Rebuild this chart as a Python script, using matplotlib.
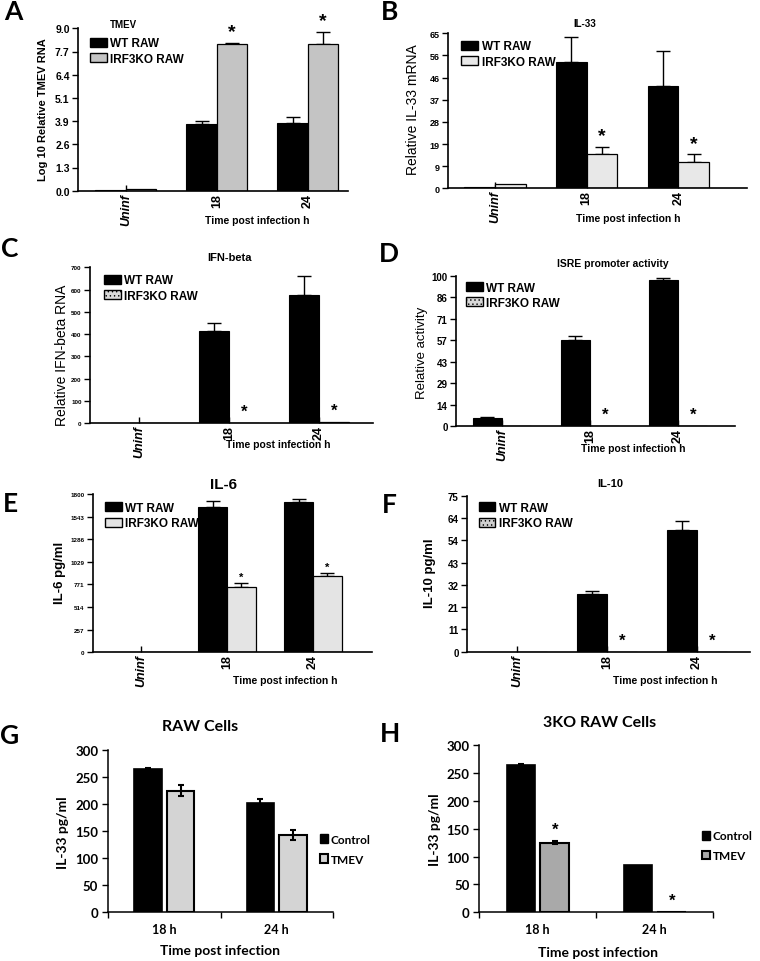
import matplotlib
matplotlib.use("Agg")
import matplotlib.pyplot as plt
import numpy as np
from matplotlib.patches import Patch

plt.rcParams["font.family"] = ["Liberation Sans", "DejaVu Sans"]
plt.rcParams["font.weight"] = "bold"
plt.rcParams["axes.labelweight"] = "bold"
plt.rcParams["hatch.linewidth"] = 0.5

W, H = 760, 962

# ---- data ----
groups = ["Uninf", "18", "24"]

tmev_wt = [0.05, 3.70, 3.75]
tmev_wt_err = [0.0, 0.15, 0.32]
tmev_ko = [0.08, 8.15, 8.15]
tmev_ko_err = [0.0, 0.05, 0.63]

il33_wt = [0.6, 53.1, 43.0]
il33_wt_err = [0.0, 10.2, 14.4]
il33_ko = [2.0, 14.2, 11.2]
il33_ko_err = [0.0, 3.2, 3.0]

ifnb_wt = [1.0, 415, 575]
ifnb_wt_err = [0.0, 35, 87]
ifnb_ko = [0.0, 1.0, 4.0]
ifnb_ko_err = [0.0, 0.0, 0.0]

isre_wt = [5.7, 57.5, 97.1]
isre_wt_err = [0.3, 2.5, 1.4]
isre_ko = [0.0, 0.2, 0.4]
isre_ko_err = [0.0, 0.0, 0.0]

il6_wt = [6, 1648, 1705]
il6_wt_err = [0, 76, 38]
il6_ko = [0, 739, 871]
il6_ko_err = [0, 45, 30]

il10_wt = [0.0, 27.7, 58.7]
il10_wt_err = [0.0, 1.6, 4.3]
il10_ko = [0.0, 0.0, 0.0]
il10_ko_err = [0.0, 0.0, 0.0]

times = ["18 h", "24 h"]
raw_ctrl = [265, 200.6]
raw_ctrl_err = [1, 9]
raw_tmev = [224, 142.6]
raw_tmev_err = [10, 9]

ko_ctrl = [264, 85]
ko_ctrl_err = [2, 0]
ko_tmev = [125, 0]
ko_tmev_err = [3, 0]

fig = plt.figure(figsize=(W / 100, H / 100), dpi=100)


def px_axes(left, top, right, bottom):
    return fig.add_axes([left / W, 1 - bottom / H, (right - left) / W, (bottom - top) / H])


def ftext(x, y, s, **kw):
    ha = kw.pop("ha", "center")
    va = kw.pop("va", "center")
    fig.text(x / W, 1 - y / H, s, ha=ha, va=va, **kw)


def sigma_panel(box, xlim, ymax, dec, wt, wt_err, ko, ko_err, ko_color, ytick_fs,
                leg_pos, ko_hatch=None, star_fs=13, star_off=2):
    ax = px_axes(*box)
    x = np.arange(len(groups))
    w = 0.335
    ax.bar(x - w / 2, wt, w, color="black", edgecolor="black", lw=0.8, zorder=2)
    ax.bar(x + w / 2, ko, w, color=ko_color, edgecolor="black", lw=0.9, hatch=ko_hatch, zorder=2)
    for xs, v, e in [(x - w / 2, wt, wt_err), (x + w / 2, ko, ko_err)]:
        v = np.array(v, float)
        e = np.array(e, float)
        m = e > 0
        if m.any():
            ax.errorbar(xs[m], v[m], yerr=[np.zeros(m.sum()), e[m]], fmt="none",
                        ecolor="black", elinewidth=1, capsize=5, capthick=1, zorder=1)
    for i in (1, 2):
        ax.annotate("*", (x[i] + w / 2, ko[i] + ko_err[i]), xytext=(0, star_off),
                    textcoords="offset points", ha="center", va="bottom", fontsize=star_fs)
    ax.set_xlim(xlim)
    ax.set_ylim(0, ymax)
    yt = np.linspace(0, ymax, 8)
    ax.set_yticks(yt)
    ax.set_yticklabels([f"{v:.{dec}f}" for v in yt], fontsize=ytick_fs)
    ax.set_xticks(x)
    ax.set_xticklabels(groups, rotation=90, fontsize=9)
    ax.get_xticklabels()[0].set_fontstyle("italic")
    ax.tick_params(axis="y", direction="out", length=4, width=1, pad=2)
    ax.tick_params(axis="x", direction="in", length=4, width=1, pad=1.5)
    for s in ["top", "right"]:
        ax.spines[s].set_visible(False)
    for s in ["left", "bottom"]:
        ax.spines[s].set_linewidth(1.2)
    handles = [Patch(facecolor="black", edgecolor="black"),
               Patch(facecolor=ko_color, edgecolor="black", hatch=ko_hatch)]
    ax.legend(handles, ["WT RAW", "IRF3KO RAW"], loc="upper left", bbox_to_anchor=leg_pos,
              frameon=False, fontsize=8.5, handlelength=1.4, handleheight=0.8,
              handletextpad=0.3, labelspacing=0.28, borderpad=0, borderaxespad=0)
    return ax


def excel_panel(box, ctrl, ctrl_err, tmev, tmev_err, tmev_color, leg_pos, stars=False):
    ax = px_axes(*box)
    x = np.arange(len(times))
    w, off = 0.245, 0.145
    ax.bar(x - off, ctrl, w, color="black", edgecolor="black", lw=1.2, zorder=2)
    ax.bar(x + off, tmev, w, color=tmev_color, edgecolor="black", lw=1.5, zorder=2)
    for xs, v, e in [(x - off, ctrl, ctrl_err), (x + off, tmev, tmev_err)]:
        v = np.array(v, float)
        e = np.array(e, float)
        m = e > 0
        ax.errorbar(xs[m], v[m], yerr=e[m], fmt="none", ecolor="black",
                    elinewidth=1.5, capsize=2.5, capthick=1.5, zorder=3)
    if stars:
        for i in range(len(times)):
            ax.annotate("*", (x[i] + off, tmev[i] + tmev_err[i]), xytext=(0, 3),
                        textcoords="offset points", ha="center", va="bottom", fontsize=12)
    ax.set_xlim(-0.5, 1.5)
    ax.set_ylim(0, 300)
    ax.set_yticks(np.arange(0, 301, 50))
    ax.set_xticks(x)
    ax.set_xticklabels(times)
    ax.set_xticks([-0.5, 0.5, 1.5], minor=True)
    ax.tick_params(axis="x", which="major", length=0, pad=8, labelsize=9, labelfontfamily="Lato")
    ax.tick_params(axis="x", which="minor", length=4, width=1, direction="out")
    ax.tick_params(axis="y", length=4, width=1, direction="out", pad=3, labelsize=9.5,
                   labelfontfamily="Lato")
    for s in ["top", "right"]:
        ax.spines[s].set_visible(False)
    for s in ["left", "bottom"]:
        ax.spines[s].set_linewidth(1.1)
    handles = [Patch(facecolor="black", edgecolor="black"),
               Patch(facecolor=tmev_color, edgecolor="black", lw=1.5)]
    ax.legend(handles, ["Control", "TMEV"], loc="upper left", bbox_to_anchor=leg_pos,
              frameon=False, prop={"family": "Lato", "weight": "bold", "size": 8.5},
              handlelength=0.75, handleheight=0.75, handletextpad=0.2, labelspacing=0.75,
              borderpad=0, borderaxespad=0)
    return ax


# A
sigma_panel((78, 29.3, 348, 191.7), (-0.527, 2.44), 9.0, 1, tmev_wt, tmev_wt_err, tmev_ko,
            tmev_ko_err, "#c4c4c4", 7.5, (0.045, 0.945), star_fs=14)
ftext(110, 25, "TMEV", ha="left", fontsize=7)
ftext(43, 110, "Log 10 Relative TMEV RNA", rotation=90, fontsize=8)
ftext(257, 221, "Time post infection h", fontsize=7.5)

# B
sigma_panel((448, 34.3, 747, 189.3), (-0.514, 2.75), 65, 0, il33_wt, il33_wt_err, il33_ko,
            il33_ko_err, "#e8e8e8", 6.5, (0.045, 0.955), star_fs=14)
ftext(413, 110, "Relative IL-33 mRNA", rotation=90, fontsize=10, fontweight="normal")
ftext(585, 24, "IL-33", fontsize=7)
ftext(628, 219, "Time post infection h", fontsize=7.5)

# C
sigma_panel((90, 268.3, 373, 424.3), (-0.544, 2.6), 700, 0, ifnb_wt, ifnb_wt_err, ifnb_ko,
            ifnb_ko_err, "#d8d8d8", 4.5, (0.05, 0.955), ko_hatch="....", star_fs=12, star_off=3)
ftext(62, 355, "Relative IFN-beta RNA", rotation=90, fontsize=10, fontweight="normal")
ftext(230, 258, "IFN-beta", fontsize=8)
ftext(278, 445, "Time post infection h", fontsize=7.5)

# D
sigma_panel((456, 276.7, 735, 427.3), (-0.523, 2.648), 100, 0, isre_wt, isre_wt_err, isre_ko,
            isre_ko_err, "#d8d8d8", 7, (0.036, 0.96), ko_hatch="....", star_fs=12, star_off=3)
ftext(422, 353, "Relative activity", rotation=90, fontsize=9.5, fontweight="normal")
ftext(613, 264, "ISRE promoter activity", fontsize=7.5)
ftext(633, 449, "Time post infection h", fontsize=7.5)

# E
sigma_panel((93, 495, 372, 653.3), (-0.558, 2.686), 1800, 0, il6_wt, il6_wt_err, il6_ko,
            il6_ko_err, "#e4e4e4", 4.5, (0.043, 0.95), star_fs=8, star_off=1)
ftext(60, 573, "IL-6 pg/ml", rotation=90, fontsize=9.5)
ftext(223, 485, "IL-6", fontsize=11)
ftext(285, 681, "Time post infection h", fontsize=7.5)

# F
sigma_panel((467, 496.7, 750, 652.7), (-0.556, 2.589), 75, 0, il10_wt, il10_wt_err, il10_ko,
            il10_ko_err, "#d0d0d0", 7, (0.042, 0.96), ko_hatch="....", star_fs=12, star_off=3)
ftext(430, 573, "IL-10 pg/ml", rotation=90, fontsize=9.5)
ftext(610, 484, "IL-10", fontsize=8)
ftext(665, 681, "Time post infection h", fontsize=7.5)

# G
excel_panel((108, 750.7, 333, 912.7), raw_ctrl, raw_ctrl_err, raw_tmev, raw_tmev_err,
            "#d4d4d4", (0.94, 0.48))
ftext(63, 833, "IL-33 pg/ml", rotation=90, fontsize=10, family="Lato")
ftext(200, 727, "RAW Cells", fontsize=11.5, family="Lato")
ftext(220, 951, "Time post infection", fontsize=10, family="Lato")

# H
excel_panel((479.3, 746, 713.3, 913.3), ko_ctrl, ko_ctrl_err, ko_tmev, ko_tmev_err,
            "#a9a9a9", (0.95, 0.49), stars=True)
ftext(435, 830, "IL-33 pg/ml", rotation=90, fontsize=10, family="Lato")
ftext(600, 723, "3KO RAW Cells", fontsize=11.5, family="Lato")
ftext(598, 953, "Time post infection", fontsize=10, family="Lato")

# panel letters
for letter, (lx, ly) in zip("ABCDEFGH", [(13, 12), (390, 12), (10, 249), (389, 254),
                                         (10, 504), (389, 505), (10, 736), (390, 734)]):
    ftext(lx, ly, letter, fontsize=19, family="Lato")

fig.savefig("out.png", dpi=100)
